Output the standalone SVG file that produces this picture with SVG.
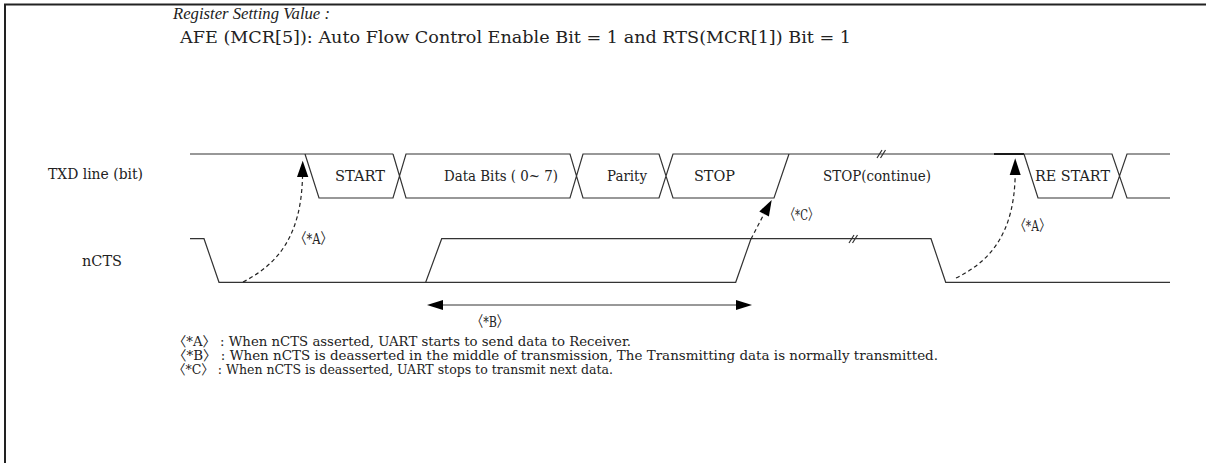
<svg xmlns="http://www.w3.org/2000/svg" width="1206" height="463" viewBox="0 0 1206 463">
<style>
  .t { font-family: "DejaVu Serif", "Liberation Serif", "Noto Sans CJK KR", serif; font-size: 15px; fill: #222; }
  .n { font-family: "DejaVu Serif", "Liberation Serif", "Noto Sans CJK KR", serif; font-size: 13.5px; fill: #222; }
  .h { font-family: "DejaVu Serif", "Liberation Serif", serif; font-size: 16px; fill: #222; }
  .hi { font-family: "Liberation Serif", "DejaVu Serif", serif; font-size: 17px; font-style: italic; fill: #222; }
  .w { fill: none; stroke: #333; stroke-width: 1.2; }
  .d { fill: none; stroke: #222; stroke-width: 1.2; stroke-dasharray: 4 3; }
  .ah { fill: #000; stroke: none; }
</style>
<rect x="0" y="0" width="1206" height="463" fill="#fff"/>
<path d="M5,463 V4.5 H1206" fill="none" stroke="#222" stroke-width="2"/>

<g id="header">
  <text class="hi" x="173" y="19" textLength="157" lengthAdjust="spacingAndGlyphs">Register Setting Value :</text>
  <text class="h" x="180" y="43" textLength="671" lengthAdjust="spacingAndGlyphs">AFE (MCR[5]): Auto Flow Control Enable Bit =  1 and RTS(MCR[1]) Bit = 1</text>
</g>

<g id="txd-label"><text class="t" x="48" y="179" textLength="95" lengthAdjust="spacingAndGlyphs">TXD line (bit)</text></g>
<g id="ncts-label"><text class="t" x="82" y="266" textLength="40" lengthAdjust="spacingAndGlyphs">nCTS</text></g>

<g id="txd-wave">
  <path class="w" d="M190,154 H393 M305,154 L319,198 H393 L406,154 H570 L583,198 H659 L673,154 H994 M393,154 L406,198 H570 L583,154 H659 L673,198 H774 L789,154"/>
  <path fill="none" stroke="#000" stroke-width="1.8" d="M994,154 H1024"/>
  <path class="w" d="M1024,154 H1112 L1127,198 H1170 M1024,154 L1038,198 H1112 L1127,154 H1170"/>
  <path class="w" d="M877,158 L882,150 M880.5,158 L885.5,150"/>
</g>
<g id="box-start"><text class="t" x="335" y="181" textLength="50" lengthAdjust="spacingAndGlyphs">START</text></g>
<g id="box-data"><text class="t" x="444" y="181" textLength="114" lengthAdjust="spacingAndGlyphs">Data Bits ( 0~ 7)</text></g>
<g id="box-parity"><text class="t" x="607" y="181" textLength="40" lengthAdjust="spacingAndGlyphs">Parity</text></g>
<g id="box-stop"><text class="t" x="694" y="181" textLength="41" lengthAdjust="spacingAndGlyphs">STOP</text></g>
<g id="stop-continue"><text class="t" x="823" y="181" textLength="108" lengthAdjust="spacingAndGlyphs">STOP(continue)</text></g>
<g id="box-restart"><text class="t" x="1035" y="181" textLength="75" lengthAdjust="spacingAndGlyphs">RE START</text></g>

<g id="ncts-wave">
  <path class="w" d="M190,238.7 H204 L219,282.3 H735.7 L751,238.7"/>
  <path class="w" d="M425.7,282.3 L441.7,238.7 H931 L945.7,282.3 H1170"/>
  <path class="w" d="M849,243 L854,235 M852.5,243 L857.5,235"/>
</g>

<g id="connectors">
  <path class="d" d="M243,282 C278,264 301,236 302.5,177"/>
  <polygon class="ah" points="302.7,160.7 297,177 308.3,177"/>
  <path class="d" d="M751,239 L764,214"/>
  <polygon class="ah" points="771.7,200 759.3,211.4 768.9,216.6"/>
  <path class="d" d="M956,278 C991,261 1014,233 1015.2,175"/>
  <polygon class="ah" points="1015.2,158.3 1009.7,175 1020.7,175"/>
  <path fill="none" stroke="#333" stroke-width="1" d="M440,305 H739"/>
  <polygon class="ah" points="427,305 443,300 443,310"/>
  <polygon class="ah" points="752,305 736,300 736,310"/>
</g>

<g id="label-a1"><text class="t" x="295" y="244" textLength="37" lengthAdjust="spacingAndGlyphs">〈*A〉</text></g>
<g id="label-c"><text class="t" x="785" y="220" textLength="33" lengthAdjust="spacingAndGlyphs">〈*C〉</text></g>
<g id="label-a2"><text class="t" x="1015" y="230.5" textLength="35" lengthAdjust="spacingAndGlyphs">〈*A〉</text></g>
<g id="label-b"><text class="t" x="472" y="327" font-size="14" textLength="36" lengthAdjust="spacingAndGlyphs">〈*B〉</text></g>

<g id="notes">
  <text class="n" x="173" y="346" textLength="458" lengthAdjust="spacingAndGlyphs">〈*A〉 : When nCTS asserted, UART starts to send data to Receiver.</text>
  <text class="n" x="173" y="360" textLength="765" lengthAdjust="spacingAndGlyphs">〈*B〉 : When nCTS is deasserted in the middle of transmission, The Transmitting data is normally transmitted.</text>
  <text class="n" x="173" y="374" textLength="440" lengthAdjust="spacingAndGlyphs">〈*C〉 : When nCTS is deasserted, UART stops to transmit next data.</text>
</g>
</svg>
